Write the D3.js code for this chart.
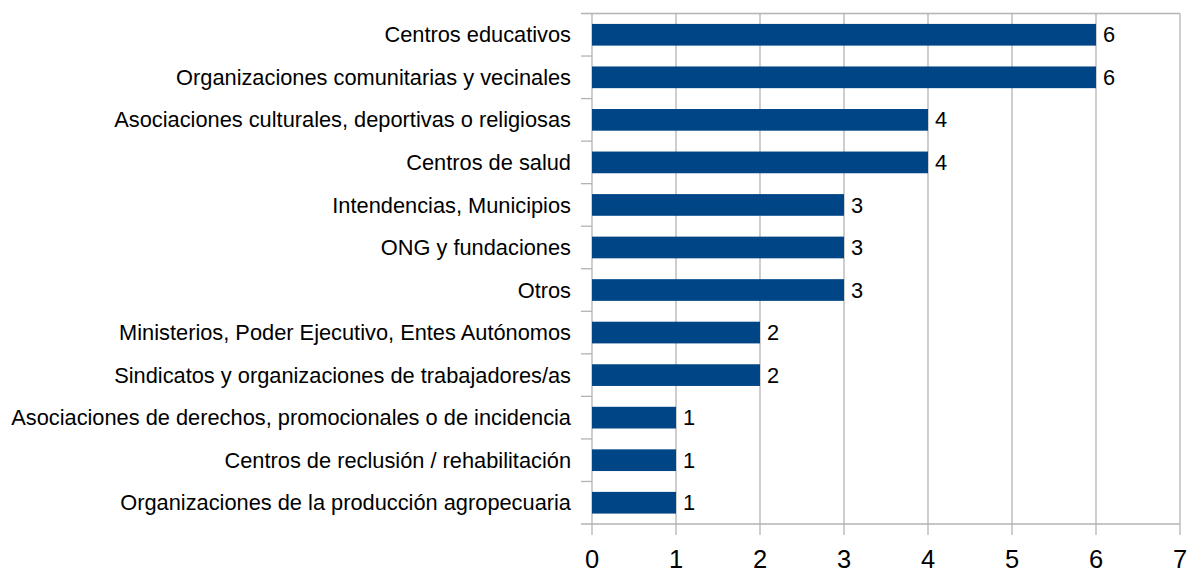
<!DOCTYPE html>
<html>
<head>
<meta charset="utf-8">
<script src="https://cdn.jsdelivr.net/npm/d3@7"></script>
<style>
  body { margin: 0; background: #fff; }
  svg { display: block; font-family: "Liberation Sans", Arial, sans-serif; }
</style>
</head>
<body>
<svg id="chart"></svg>
<script>
let categories = [
    "Centros educativos",
    "Organizaciones comunitarias y vecinales",
    "Asociaciones culturales, deportivas o religiosas",
    "Centros de salud",
    "Intendencias, Municipios",
    "ONG y fundaciones",
    "Otros",
    "Ministerios, Poder Ejecutivo, Entes Autónomos",
    "Sindicatos y organizaciones de trabajadores/as",
    "Asociaciones de derechos, promocionales o de incidencia",
    "Centros de reclusión / rehabilitación",
    "Organizaciones de la producción agropecuaria"
];
let values = [6, 6, 4, 4, 3, 3, 3, 2, 2, 1, 1, 1];
let xTicks = [0, 1, 2, 3, 4, 5, 6, 7];

let width = 1188;
let height = 569;
let plotLeft = 592, plotRight = 1180, plotTop = 13.5, plotBottom = 524;
let gridColor = "#b3b3b3";
let barColor = "#004586";

let svg = d3.select("#chart").attr("width", width).attr("height", height);

let xScale = d3.scaleLinear().domain([0, 7]).range([plotLeft, plotRight]);
let yScale = d3.scaleBand().domain(categories).range([plotTop, plotBottom]).paddingInner(0.49).paddingOuter(0.245);
let bandStep = (plotBottom - plotTop) / categories.length;

// vertical grid lines
svg.append("g")
    .selectAll("line")
    .data(xTicks)
    .enter()
    .append("line")
    .attr("x1", d => xScale(d)).attr("x2", d => xScale(d))
    .attr("y1", plotTop).attr("y2", plotBottom + 11)
    .attr("stroke", gridColor).attr("stroke-width", 1.3);

// top border and bottom axis line
[plotTop, plotBottom].forEach(y => {
    svg.append("line")
        .attr("x1", plotLeft - 11).attr("x2", plotRight)
        .attr("y1", y).attr("y2", y)
        .attr("stroke", gridColor).attr("stroke-width", 1.3);
});

// category boundary ticks on the left
svg.append("g")
    .selectAll("line")
    .data(d3.range(1, categories.length))
    .enter()
    .append("line")
    .attr("x1", plotLeft - 11).attr("x2", plotLeft)
    .attr("y1", i => plotTop + i * bandStep).attr("y2", i => plotTop + i * bandStep)
    .attr("stroke", gridColor).attr("stroke-width", 1.3);

// bars
svg.append("g")
    .selectAll("rect")
    .data(values)
    .enter()
    .append("rect")
    .attr("x", xScale(0))
    .attr("y", (d, i) => yScale(categories[i]))
    .attr("width", d => xScale(d) - xScale(0))
    .attr("height", yScale.bandwidth())
    .attr("fill", barColor);

// value labels
svg.append("g")
    .selectAll("text")
    .data(values)
    .enter()
    .append("text")
    .attr("x", d => xScale(d) + 7)
    .attr("y", (d, i) => yScale(categories[i]) + yScale.bandwidth() / 2)
    .attr("dy", "0.35em")
    .attr("font-size", 21.8)
    .attr("fill", "#000")
    .text(d => d);

// category labels
svg.append("g")
    .selectAll("text")
    .data(categories)
    .enter()
    .append("text")
    .attr("x", plotLeft - 21)
    .attr("y", d => yScale(d) + yScale.bandwidth() / 2)
    .attr("dy", "0.35em")
    .attr("text-anchor", "end")
    .attr("font-size", 21.8)
    .attr("fill", "#000")
    .text(d => d);

// x tick labels
svg.append("g")
    .selectAll("text")
    .data(xTicks)
    .enter()
    .append("text")
    .attr("x", d => xScale(d))
    .attr("y", 567.5)
    .attr("text-anchor", "middle")
    .attr("font-size", 25.5)
    .attr("fill", "#000")
    .text(d => d);
</script>
</body>
</html>
